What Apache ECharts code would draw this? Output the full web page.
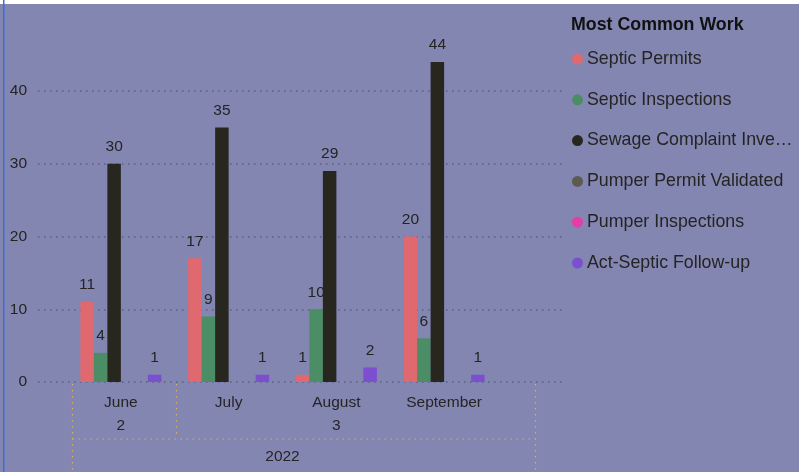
<!DOCTYPE html>
<html>
<head>
<meta charset="utf-8">
<script src="https://cdn.jsdelivr.net/npm/echarts@6/dist/echarts.min.js"></script>
<style>
html,body{margin:0;padding:0;background:#fff;}
#chart{position:absolute;left:0;top:0;width:799px;height:472px;}
</style>
</head>
<body>
<div id="chart"></div>
<script>
// ---- data ----
var months = ['June', 'July', 'August', 'September'];
var quarterLabels = ['2', '', '3', ''];
var yearLabel = '2022';
var yTicks = [0, 10, 20, 30, 40];
var seriesNames = ['Septic Permits', 'Septic Inspections', 'Sewage Complaint Investigation', 'Pumper Permit Validated', 'Pumper Inspections', 'Act-Septic Follow-up'];
var septicPermits = [11, 17, 1, 20];
var septicInspections = [4, 9, 10, 6];
var sewageComplaints = [30, 35, 29, 44];
var pumperPermitValidated = [null, null, null, null];
var pumperInspections = [null, null, null, null];
var actSepticFollowUp = [1, 1, 2, 1];
var legendTitle = 'Most Common Work';

// ---- font pick: narrow font if installed, else scaled regular ----
function hasFont(name) {
  var c = document.createElement('canvas').getContext('2d');
  c.font = '40px monospace';
  var a = c.measureText('September Inspections').width;
  c.font = '40px "' + name + '", monospace';
  var b = c.measureText('September Inspections').width;
  return Math.abs(a - b) > 0.5;
}
var FONT, S_AX, S_LEG;
if (hasFont('Liberation Sans Narrow')) {
  FONT = "'Liberation Sans Narrow', sans-serif"; S_AX = 18; S_LEG = 21;
} else if (hasFont('Arial Narrow')) {
  FONT = "'Arial Narrow', sans-serif"; S_AX = 18; S_LEG = 21;
} else {
  FONT = "'Liberation Sans', Arial, sans-serif"; S_AX = 15.5; S_LEG = 17.8;
}
var TXT = '#252423';
var colors = ['#e0696f', '#4b8d64', '#28271f', '#5c5b4e', '#e23ea5', '#7b4fd0'];
var seriesData = [septicPermits, septicInspections, sewageComplaints, pumperPermitValidated, pumperInspections, actSepticFollowUp];

var chart = echarts.init(document.getElementById('chart'), null, {renderer: 'canvas'});

var series = seriesNames.map(function (name, i) {
  return {
    name: name,
    type: 'bar',
    xAxisIndex: 1,
    yAxisIndex: 1,
    data: seriesData[i],
    barWidth: 13.5,
    barGap: '0%',
    itemStyle: {color: colors[i]},
    label: {
      show: true,
      position: 'top',
      distance: 9,
      fontFamily: FONT,
      fontSize: S_AX,
      color: TXT
    },
    emphasis: {disabled: true},
    animation: false
  };
});

var dotColor = '#d8ae68';
function dline(x1, y1, x2, y2) {
  return {type: 'line', silent: true, shape: {x1: x1, y1: y1, x2: x2, y2: y2},
    style: {stroke: dotColor, lineWidth: 1.2, lineDash: [1.5, 4.5]}};
}

var option = {
  backgroundColor: '#8386b1',
  animation: false,
  title: {
    text: legendTitle,
    left: 571, top: 16, padding: 0,
    textStyle: {fontFamily: FONT, fontSize: S_LEG, fontWeight: 'bold', color: '#111'}
  },
  legend: {
    orient: 'vertical',
    left: 572, top: 48.5, padding: 0,
    itemWidth: 11, itemHeight: 11,
    itemGap: 19.8,
    icon: 'circle',
    selectedMode: false,
    data: seriesNames,
    textStyle: {fontFamily: FONT, fontSize: S_LEG, color: TXT, lineHeight: 21,
      width: 213, overflow: 'truncate', ellipsis: '…', padding: [0, 0, 0, -1]}
  },
  grid: [
    {left: 38, right: 234, top: 91, bottom: 90},
    {left: 67, width: 431, top: 382 - 50 * 7.275, bottom: 90}
  ],
  xAxis: [
    {type: 'value', gridIndex: 0, show: false, min: 0, max: 1},
    {
      type: 'category', gridIndex: 1, data: months,
      axisLine: {show: false}, axisTick: {show: false},
      axisLabel: {fontFamily: FONT, fontSize: S_AX, color: TXT, margin: 13, interval: 0},
      name: yearLabel, nameLocation: 'middle', nameGap: 67,
      nameTextStyle: {fontFamily: FONT, fontSize: S_AX, color: TXT}
    },
    {
      type: 'category', gridIndex: 1, data: months, position: 'bottom', offset: 23,
      axisLine: {show: false}, axisTick: {show: false},
      axisLabel: {fontFamily: FONT, fontSize: S_AX, color: TXT, margin: 13, interval: 0,
        formatter: function (v, i) { return quarterLabels[i]; }}
    }
  ],
  yAxis: [
    {
      type: 'value', gridIndex: 0, min: yTicks[0], max: yTicks[yTicks.length - 1], interval: 10,
      axisLine: {show: false}, axisTick: {show: false},
      axisLabel: {fontFamily: FONT, fontSize: S_AX, color: TXT, margin: 11},
      splitLine: {show: true, lineStyle: {color: '#5c5f83', width: 1.5, type: [1.5, 4.5]}}
    },
    {type: 'value', gridIndex: 1, min: 0, max: 50, show: false, splitLine: {show: false}}
  ],
  series: series,
  graphic: [
    {type: 'rect', silent: true, shape: {x: 0, y: 0, width: 799, height: 4}, style: {fill: '#ffffff'}},
    {type: 'rect', silent: true, shape: {x: 3, y: 0, width: 1.5, height: 472}, style: {fill: '#3d6ed8'}},
    dline(72.5, 384, 72.5, 472),
    dline(176.5, 384, 176.5, 438),
    dline(535.5, 384, 535.5, 472),
    dline(72.5, 439, 535.5, 439)
  ]
};
chart.setOption(option);
</script>
</body>
</html>
